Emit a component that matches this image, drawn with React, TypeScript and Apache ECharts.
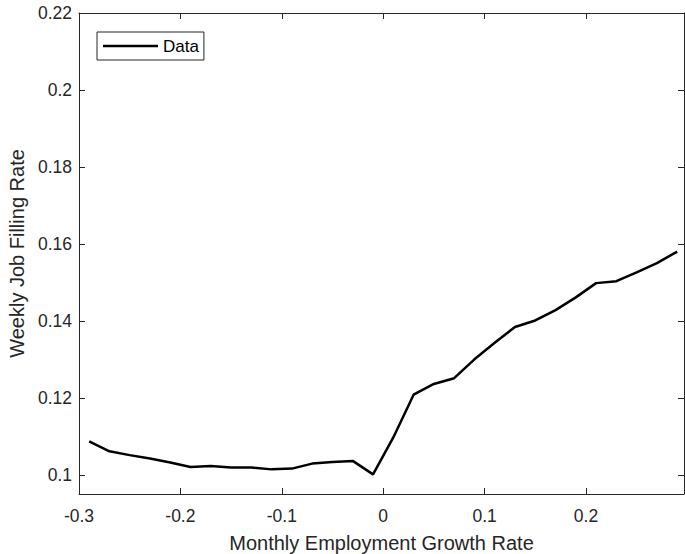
import React, { useEffect, useRef } from "react";
import * as echarts from "echarts";

const growthRates = [
  -0.29, -0.27, -0.25, -0.23, -0.21, -0.19, -0.17, -0.15, -0.13, -0.11,
  -0.09, -0.07, -0.05, -0.03, -0.01, 0.01, 0.03, 0.05, 0.07, 0.09,
  0.11, 0.13, 0.15, 0.17, 0.19, 0.21, 0.23, 0.25, 0.27, 0.29,
];
const fillingRates = [
  0.1087, 0.1061, 0.1051, 0.1042, 0.1032, 0.102, 0.1023, 0.1019, 0.1019, 0.1014,
  0.1016, 0.1029, 0.1033, 0.1036, 0.1001, 0.1097, 0.1208, 0.1236, 0.1251, 0.13,
  0.1343, 0.1384, 0.1401, 0.1428, 0.1461, 0.1498, 0.1503, 0.1526, 0.155, 0.158,
];
const xMin = -0.3;
const xMax = 0.2967;
const xStep = 0.1;
const yMin = 0.095;
const yMax = 0.22;
const yStep = 0.02;

const FONT = "Liberation Sans, Arial, Helvetica, sans-serif";
const AX = "#262626";

const onStep = (v: number, step: number) =>
  Math.abs(v / step - Math.round(v / step)) < 1e-6;
const fmt = (v: number, d: number) => String(parseFloat(v.toFixed(d)));

export default function App() {
  const ref = useRef<HTMLDivElement>(null);
  useEffect(() => {
    if (!ref.current) return;
    const chart = echarts.init(ref.current, undefined, { renderer: "svg" });
    const axisLine = { show: true, onZero: false, lineStyle: { color: AX, width: 1 } };
    const tick = { show: true, inside: true, length: 6, lineStyle: { color: AX, width: 1 } };
    const xBase = {
      type: "value",
      min: xMin,
      max: xMax,
      minInterval: xStep,
      maxInterval: xStep,
      splitLine: { show: false },
      axisLine,
      axisTick: tick,
    };
    const yBase = {
      type: "value",
      min: yMin,
      max: yMax,
      splitNumber: 6,
      minInterval: yStep,
      maxInterval: yStep,
      splitLine: { show: false },
      axisLine,
      axisTick: tick,
    };
    chart.setOption({
      animation: false,
      backgroundColor: "#fff",
      grid: { left: 79, top: 13, right: 1, bottom: 60, outerBoundsMode: "none", containLabel: false },
      legend: {
        data: [{ name: "Data", icon: "rect" }],
        left: 97,
        top: 32,
        itemWidth: 55,
        itemHeight: 2.5,
        padding: [5.5, 5, 5.5, 6],
        borderColor: AX,
        borderWidth: 1,
        backgroundColor: "#fff",
        itemStyle: { color: "#000", borderWidth: 0 },
        textStyle: { fontSize: 17, color: "#000", fontFamily: FONT },
      },
      xAxis: [
        {
          ...xBase,
          position: "bottom",
          name: "Monthly Employment Growth Rate",
          nameLocation: "middle",
          nameGap: 39,
          nameTextStyle: { fontSize: 20, color: AX, fontFamily: FONT },
          axisLabel: {
            show: true,
            margin: 12.5,
            fontSize: 17.5,
            color: AX,
            fontFamily: FONT,
            formatter: (v: number) => (onStep(v, xStep) ? fmt(v, 2) : ""),
          },
        },
        { ...xBase, position: "top", axisLabel: { show: false } },
      ],
      yAxis: [
        {
          ...yBase,
          position: "left",
          name: "Weekly Job Filling Rate",
          nameLocation: "middle",
          nameGap: 51,
          nameTextStyle: { fontSize: 20, color: AX, fontFamily: FONT },
          axisLabel: {
            show: true,
            margin: 7,
            fontSize: 17.5,
            color: AX,
            fontFamily: FONT,
            padding: [5, 0, 0, 0],
            formatter: (v: number) => (onStep(v, yStep) ? fmt(v, 3) : ""),
          },
        },
        { ...yBase, position: "right", axisLabel: { show: false } },
      ],
      series: [
        {
          name: "Data",
          type: "line",
          xAxisIndex: 0,
          yAxisIndex: 0,
          data: growthRates.map((x, i) => [x, fillingRates[i]]),
          symbol: "none",
          showSymbol: false,
          lineStyle: { color: "#000", width: 2.5 },
          itemStyle: { color: "#000" },
        },
      ],
    });
    return () => chart.dispose();
  }, []);
  return (
    <div
      ref={ref}
      style={{ position: "fixed", left: 0, top: 0, width: 685, height: 554, background: "#fff" }}
    />
  );
}
